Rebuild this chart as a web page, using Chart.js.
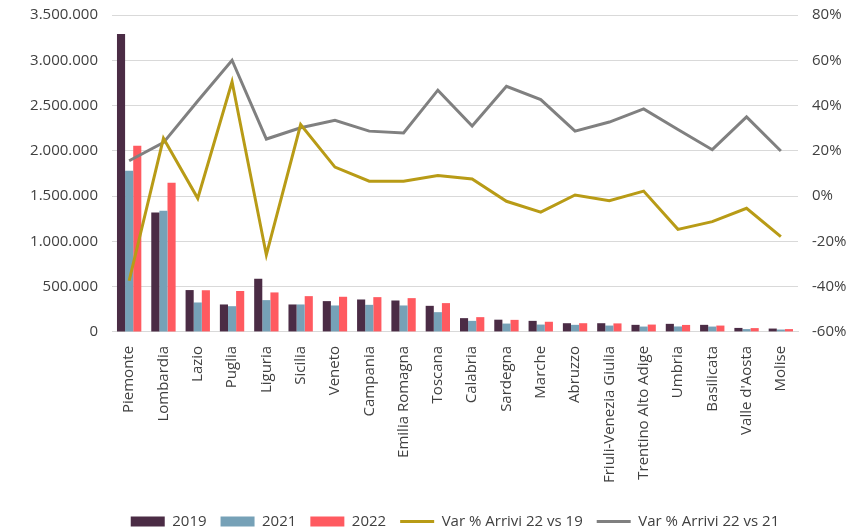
<!DOCTYPE html>
<html>
<head>
<meta charset="utf-8">
<script src="https://cdn.jsdelivr.net/npm/chart.js@4/dist/chart.umd.min.js"></script>
<style>
  html, body { margin: 0; padding: 0; background: #ffffff; }
  #wrap { width: 859px; height: 531px; position: relative; }
</style>
</head>
<body>
<div id="wrap"><canvas id="chart"></canvas></div>
<script>
// regioni
const regions = ['Piemonte', 'Lombardia', 'Lazio', 'Puglia', 'Liguria', 'Sicilia', 'Veneto', 'Campania',
    'Emilia Romagna', 'Toscana', 'Calabria', 'Sardegna', 'Marche', 'Abruzzo', 'Friuli-Venezia Giulia',
    'Trentino Alto Adige', 'Umbria', 'Basilicata', "Valle d'Aosta", 'Molise'];

// arrivi per anno
const arrivals2019 = [3290000, 1318000, 462000, 303000, 587000, 303000, 340000, 358000, 347000, 288000,
    152000, 135000, 122000, 96000, 96000, 78000, 89000, 78000, 44000, 37000];
const arrivals2021 = [1780000, 1337000, 325000, 284000, 351000, 303000, 292000, 299000, 292000, 218000,
    122000, 92000, 81000, 78000, 70000, 59000, 60000, 59000, 31000, 26000];
const arrivals2022 = [2057000, 1647000, 460000, 452000, 436000, 395000, 388000, 384000, 373000, 318000,
    163000, 133000, 112000, 96000, 94000, 81000, 77000, 70000, 42000, 31000];

// variazioni %
const var22vs19 = [-37.4, 25.5, -1, 50.5, -26, 31.6, 12.8, 6.6, 6.6, 9.1,
    7.6, -2.3, -7.1, 0.5, -2, 2.2, -14.7, -11.3, -5.4, -17.9];
const var22vs21 = [15.6, 23.6, 42, 60, 25.2, 30.2, 33.5, 28.7, 27.9, 46.8,
    31, 48.5, 42.6, 28.7, 32.7, 38.5, 29.4, 20.5, 35, 19.9];

const textColor = '#404040';
const gridColor = '#d9d9d9';
const baseFont = { family: "'Open Sans', sans-serif", size: 15 };

const formatThousands = v => v.toString().replace(/\B(?=(\d{3})+(?!\d))/g, '.');

const barDataset = (label, data, color) => ({
    type: 'bar',
    label,
    data,
    backgroundColor: color,
    borderWidth: 0,
    barPercentage: 1,
    categoryPercentage: 0.71,
    yAxisID: 'y',
    order: 1
});

const lineDataset = (label, data, color) => ({
    type: 'line',
    label,
    data,
    borderColor: color,
    backgroundColor: color,
    borderWidth: 3,
    pointRadius: 0,
    tension: 0,
    fill: false,
    yAxisID: 'y1',
    order: 0
});

// y axes: fixed width, no extra top/bottom padding from the tick labels
const fixAxis = width => scale => {
    scale.width = width;
    scale.paddingTop = 0;
    scale.paddingBottom = 0;
};

new Chart(document.getElementById('chart'), {
    data: {
        labels: regions,
        datasets: [
            barDataset('2019', arrivals2019, '#4b2c45'),
            barDataset('2021', arrivals2021, '#76a1b7'),
            barDataset('2022', arrivals2022, '#ff5a60'),
            lineDataset('Var % Arrivi 22 vs 19', var22vs19, '#b89b16'),
            lineDataset('Var % Arrivi 22 vs 21', var22vs21, '#808080')
        ]
    },
    options: {
        responsive: true,
        maintainAspectRatio: false,
        animation: false,
        layout: { padding: { top: 15, left: 0, right: 0, bottom: -8 } },
        plugins: {
            tooltip: { enabled: false },
            legend: {
                position: 'bottom',
                align: 'center',
                fullSize: false,
                labels: {
                    color: textColor,
                    font: baseFont,
                    usePointStyle: true,
                    pointStyleWidth: 34,
                    boxHeight: 10,
                    padding: 14,
                    sort: (a, b) => a.datasetIndex - b.datasetIndex,
                    generateLabels: chart => {
                        const items = Chart.defaults.plugins.legend.labels.generateLabels(chart);
                        items.forEach(item => {
                            const ds = chart.data.datasets[item.datasetIndex];
                            item.pointStyle = ds.type === 'line' ? 'line' : 'rect';
                            item.lineWidth = ds.type === 'line' ? 3 : 0;
                            item.strokeStyle = ds.borderColor || ds.backgroundColor;
                        });
                        return items;
                    }
                }
            }
        },
        scales: {
            x: {
                grid: { display: false },
                border: { display: true, color: gridColor },
                ticks: {
                    color: textColor,
                    font: baseFont,
                    autoSkip: false,
                    minRotation: 90,
                    maxRotation: 90,
                    padding: 6
                },
                afterFit: scale => { scale.height += 11; }
            },
            y: {
                position: 'left',
                min: 0,
                max: 3500000,
                border: { display: false },
                grid: { color: gridColor, lineWidth: 1, drawTicks: false },
                ticks: {
                    stepSize: 500000,
                    color: textColor,
                    font: baseFont,
                    padding: 14,
                    callback: v => formatThousands(v)
                },
                afterFit: fixAxis(112)
            },
            y1: {
                position: 'right',
                min: -60,
                max: 80,
                border: { display: false },
                grid: { display: false, drawTicks: false },
                ticks: {
                    stepSize: 20,
                    color: textColor,
                    font: baseFont,
                    padding: 14,
                    callback: v => v + '%'
                },
                afterFit: fixAxis(61)
            }
        }
    }
});
</script>
</body>
</html>
